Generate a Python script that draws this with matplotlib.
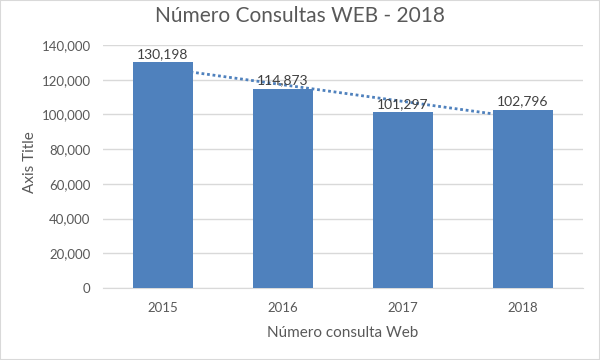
import numpy as np
import matplotlib.pyplot as plt
from matplotlib.patches import Rectangle
from matplotlib.ticker import FuncFormatter

years = ['2015', '2016', '2017', '2018']
consultas = [130198, 114873, 101297, 102796]
y_ticks = [0, 20000, 40000, 60000, 80000, 100000, 120000, 140000]

plt.rcParams['font.family'] = ['Lato', 'DejaVu Sans']

fig = plt.figure(figsize=(6, 3.6), dpi=100)
ax = fig.add_axes([0.1717, 0.2, 0.8, 0.675])

x = np.arange(len(years))
bar_color = '#4f81bd'
ax.bar(x, consultas, width=0.5, color=bar_color, zorder=3)

# linear trendline (behind the bars, like excel)
coef = np.polyfit(x, consultas, 1)
ax.plot(x, np.polyval(coef, x), linestyle=(0, (1, 1)), color=bar_color,
        linewidth=2, zorder=2)

for xi, v in zip(x, consultas):
    ax.text(xi, v + 1200, f'{v:,}', ha='center', va='bottom', fontsize=10,
            color='#404040', zorder=4)

ax.set_xlim(-0.5, len(years) - 0.5)
ax.set_ylim(0, 140000)
ax.set_yticks(y_ticks)
ax.yaxis.set_major_formatter(FuncFormatter(lambda v, p: f'{int(v):,}'))
ax.set_xticks(x)
ax.set_xticklabels(years)
ax.tick_params(axis='both', length=0, labelsize=9.5, colors='#595959')
ax.tick_params(axis='x', pad=10)
ax.tick_params(axis='y', pad=9)

ax.grid(axis='y', color='#d9d9d9', linewidth=1, zorder=0)
ax.set_axisbelow(True)
for s in ['top', 'right', 'left']:
    ax.spines[s].set_visible(False)
ax.spines['bottom'].set_color('#d9d9d9')

fig.text(0.5, 0.956, 'Número Consultas WEB - 2018', fontsize=15,
         color='#595959', ha='center', va='center')
fig.text(0.05, 0.55, 'Axis Title', fontsize=11, color='#595959',
         rotation=90, ha='center', va='center')
fig.text(0.5717, 0.075, 'Número consulta Web', fontsize=11, color='#595959',
         ha='center', va='center')

fig.patches.append(Rectangle((0, 0), 1, 1, transform=fig.transFigure,
                             fill=False, edgecolor='#d9d9d9', linewidth=1.5))

plt.savefig('out.png', dpi=100)
